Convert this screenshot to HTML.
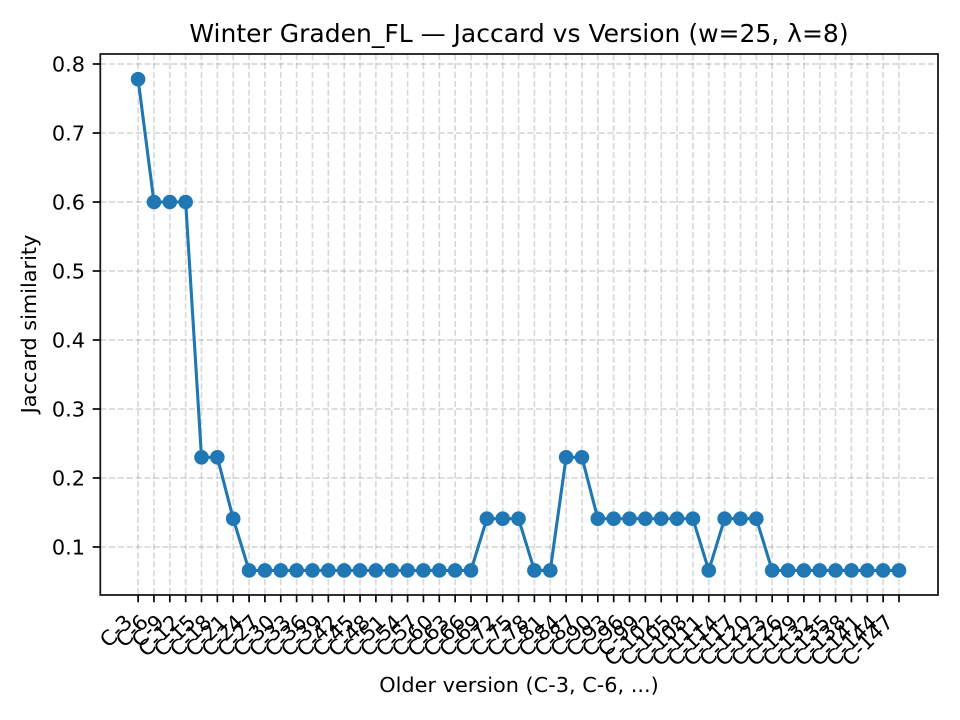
<!DOCTYPE html>
<html>
<head>
<meta charset="utf-8">
<style>
html,body{margin:0;padding:0;background:#fff;}
svg{display:block;}
text{font-family:"DejaVu Sans","Liberation Sans",sans-serif;fill:#000;}
</style>
</head>
<body>
<svg id="chart" xmlns="http://www.w3.org/2000/svg" width="960" height="720" viewBox="0 0 960 720">
<rect x="0" y="0" width="960" height="720" fill="#fff"/>
<text x="519" y="42" text-anchor="middle" font-size="25">Winter Graden_FL — Jaccard vs Version (w=25, λ=8)</text>
<text x="519" y="692" text-anchor="middle" font-size="20.83">Older version (C-3, C-6, ...)</text>
<text transform="translate(36,324) rotate(-90)" text-anchor="middle" font-size="20.83">Jaccard similarity</text>
<g id="grid"></g>
<g id="series"></g>
<rect x="100.3" y="54" width="837.7" height="541" fill="none" stroke="#000" stroke-width="1.8" opacity="0.9"/>
<g id="ticks"></g>
</svg>
<script>
const categories = ["C-3","C-6","C-9","C-12","C-15","C-18","C-21","C-24","C-27","C-30","C-33","C-36","C-39","C-42","C-45","C-48","C-51","C-54","C-57","C-60","C-63","C-66","C-69","C-72","C-75","C-78","C-81","C-84","C-87","C-90","C-93","C-96","C-99","C-102","C-105","C-108","C-111","C-114","C-117","C-120","C-123","C-126","C-129","C-132","C-135","C-138","C-141","C-144","C-147"];
const jaccardValues = [0.778,0.6,0.6,0.6,0.23,0.23,0.141,0.066,0.066,0.066,0.066,0.066,0.066,0.066,0.066,0.066,0.066,0.066,0.066,0.066,0.066,0.066,0.141,0.141,0.141,0.066,0.066,0.23,0.23,0.141,0.141,0.141,0.141,0.141,0.141,0.141,0.066,0.141,0.141,0.141,0.066,0.066,0.066,0.066,0.066,0.066,0.066,0.066,0.066];
const yTickValues = [0.1,0.2,0.3,0.4,0.5,0.6,0.7,0.8];

const NS = "http://www.w3.org/2000/svg";
const plotLeft = 100, plotRight = 938, plotTop = 54, plotBottom = 595;
function xScale(i){ return 138.1 + i * (899 - 138.1) / (categories.length - 1); }
function yScale(v){ return 547 - (v - 0.1) * (547 - 64) / 0.7; }
function make(tag, attrs, parent){
  const el = document.createElementNS(NS, tag);
  for (const k in attrs) el.setAttribute(k, attrs[k]);
  parent.appendChild(el);
  return el;
}
const gridG = document.getElementById("grid");
const seriesG = document.getElementById("series");
const ticksG = document.getElementById("ticks");
const gridStyle = {stroke:"#808080","stroke-opacity":"0.3","stroke-width":"1.67","stroke-dasharray":"6.2 2.7"};
const tickStyle = {stroke:"#000","stroke-width":"1.67"};

categories.forEach(function(label, i){
  const x = xScale(i);
  const g = make("line", Object.assign({x1:x,x2:x,y1:plotTop,y2:plotBottom}, gridStyle), gridG);
  
  
  const t = make("line", Object.assign({x1:x,x2:x,y1:plotBottom,y2:plotBottom+7.3}, tickStyle), ticksG);
  
  
  const txt = make("text", {transform:"translate("+(x-4.5)+",623.5) rotate(-45)","text-anchor":"end","font-size":"20.83"}, ticksG);
  
  
  txt.textContent = label;
});
yTickValues.forEach(function(v){
  const y = yScale(v);
  const g = make("line", Object.assign({x1:plotLeft,x2:plotRight,y1:y,y2:y}, gridStyle), gridG);
  
  
  const t = make("line", Object.assign({x1:plotLeft-7.3,x2:plotLeft,y1:y,y2:y}, tickStyle), ticksG);
  
  
  const txt = make("text", {x:85,y:y+7.6,"text-anchor":"end","font-size":"20.83"}, ticksG);
  
  
  txt.textContent = v.toFixed(1);
});
const pts = jaccardValues.map(function(v,i){ return xScale(i).toFixed(2)+","+yScale(v).toFixed(2); }).join(" ");
const line = make("polyline", {points:pts,fill:"none",stroke:"#1f77b4","stroke-width":"3.1","stroke-linejoin":"round"}, seriesG);


jaccardValues.forEach(function(v,i){
  const c = make("circle", {cx:xScale(i),cy:yScale(v),r:"7.3",fill:"#1f77b4"}, seriesG);
  
  
});
</script>
</body>
</html>
